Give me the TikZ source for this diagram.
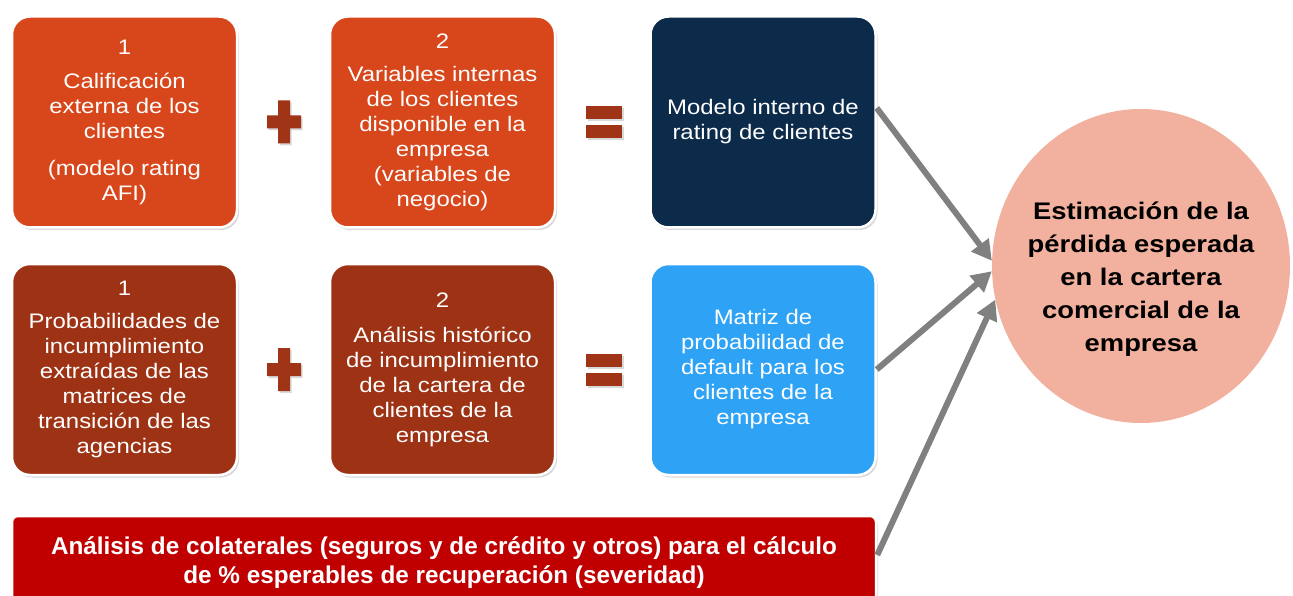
\documentclass[tikz,border=0pt]{standalone}
\usepackage{fontspec}
\setmainfont{Liberation Sans}[FakeStretch=1.14]
\newfontfamily\barfont{Liberation Sans}
\usetikzlibrary{arrows.meta, calc, shapes.geometric, shadows}
\definecolor{orangeColor}{RGB}{216,71,27}
\definecolor{brickColor}{RGB}{158,50,20}
\definecolor{navyColor}{RGB}{12,42,74}
\definecolor{skyColor}{RGB}{46,162,245}
\definecolor{barColor}{RGB}{192,0,0}
\definecolor{goalColor}{RGB}{242,176,158}
\definecolor{signColor}{RGB}{160,52,23}
\definecolor{arrowColor}{RGB}{128,128,128}

\begin{document}
\begin{tikzpicture}[
    x=1pt, y=-1pt,
    card/.style={draw=white, line width=2.5pt, rounded corners=18pt, minimum width=225pt, minimum height=211pt, inner sep=0pt, align=center, text=white, font=\fontsize{21}{25}\selectfont, drop shadow={shadow xshift=2pt, shadow yshift=-2.5pt, opacity=0.3}},  % white rim + soft shadow
    sign/.style={fill=signColor, drop shadow={shadow xshift=1.5pt, shadow yshift=-2pt, opacity=0.3}},
    link/.style={-{Triangle[length=20pt, width=21pt]}, line width=6pt, draw=arrowColor}
]

% Bounding area of the slide
\useasboundingbox (0,0) rectangle (1293,596);

% Column and row positions
\def\colA{124.5}
\def\colB{442.5}
\def\colC{763}
\def\rowA{122}
\def\rowB{369.5}

% First row: external rating + internal variables = internal model
\node[card, fill=orangeColor] (rating) at (\colA,\rowA) {1\\[9pt]Calificación\\externa de los\\clientes\\[12pt](modelo rating\\AFI)};
\node[card, fill=orangeColor] (variables) at (\colB,\rowA) {2\\[8pt]Variables internas\\de los clientes\\disponible en la\\empresa\\(variables de\\negocio)};
\node[card, fill=navyColor] (model) at (\colC,\rowA) {Modelo interno de\\rating de clientes};

% Second row: agency matrices + own history = default matrix
\node[card, fill=brickColor] (agencies) at (\colA,\rowB) {1\\[8pt]Probabilidades de\\incumplimiento\\extraídas de las\\matrices de\\transición de las\\agencias};
\node[card, fill=brickColor] (history) at (\colB,\rowB) {2\\[10pt]Análisis histórico\\de incumplimiento\\de la cartera de\\clientes de la\\empresa};
\node[card, fill=skyColor] (default) at (\colC,\rowB) {Matriz de\\probabilidad de\\default para los\\clientes de la\\empresa};

% Collateral bar at the bottom
\node[card, fill=barColor, rounded corners=6pt, minimum width=864pt, minimum height=94pt, font=\barfont\bfseries\fontsize{24.3}{29}\selectfont] (severity) at (444,563) {Análisis de colaterales (seguros y de crédito y otros) para el cálculo\\de \% esperables de recuperación (severidad)};

% Expected loss (circle, text sits a bit low)
\node[ellipse, fill=goalColor, minimum width=298pt, minimum height=314pt, inner sep=0pt] (goal) at (1141,266) {};
\node[align=center, font=\bfseries\fontsize{24}{33}\selectfont] (goalText) at (1141,279) {Estimación de la\\pérdida esperada\\en la cartera\\comercial de la\\empresa};

% Plus and equals signs
\foreach \y in {\rowA,\rowB} {
    \fill[sign] (278,\y-21.5) -- (290,\y-21.5) -- (290,\y-6.5) -- (301,\y-6.5) -- (301,\y+6.5) -- (290,\y+6.5) -- (290,\y+21.5) -- (278,\y+21.5) -- (278,\y+6.5) -- (267,\y+6.5) -- (267,\y-6.5) -- (278,\y-6.5) -- cycle;
    \fill[sign] (586,\y-16) rectangle (622,\y-3);
    \fill[sign] (586,\y+3) rectangle (622,\y+16);
}

% Arrows into the estimate
\draw[link] ($(model.east)+(0,-14)$) -- (goal.178);
\draw[link] (default.east) -- (goal.182);
\draw[link] ($(severity.east)+(0,-8)$) -- (goal.193);

\end{tikzpicture}
\end{document}
